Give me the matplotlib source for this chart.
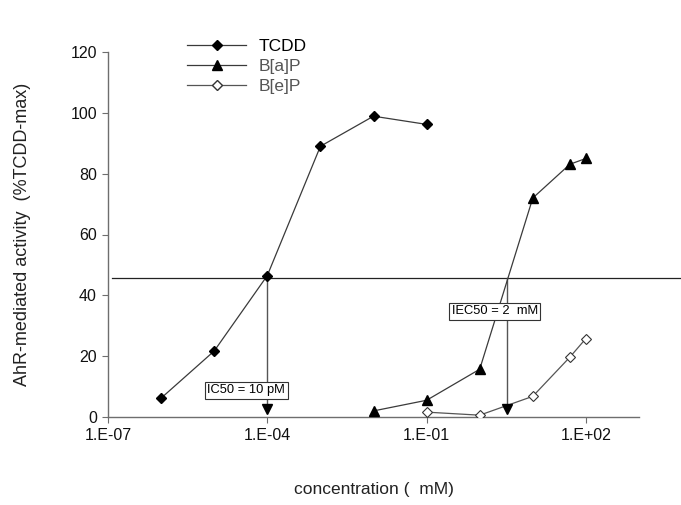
import matplotlib

matplotlib.use("Agg")
import matplotlib.pyplot as plt
from matplotlib.lines import Line2D

plt.rcParams["font.family"] = ["Liberation Sans", "DejaVu Sans"]

# values
tcdd_conc = [1e-6, 1e-5, 1e-4, 1e-3, 1e-2, 1e-1]
tcdd_act = [6.2, 21.7, 46.5, 89.0, 98.9, 96.2]

bap_conc = [1e-2, 1e-1, 1.0, 10.0, 50.0, 100.0]
bap_act = [2.0, 5.5, 15.7, 72.0, 83.1, 85.0]

bep_conc = [1e-1, 1.0, 10.0, 50.0, 100.0]
bep_act = [1.6, 0.6, 6.8, 19.7, 25.8]

half_level = 45.6
ic50_conc = 1e-4
iec50_conc = 3.3
arrow_level = 2.6

xticks = [1e-7, 1e-4, 1e-1, 1e2]
xtick_labels = ["1.E-07", "1.E-04", "1.E-01", "1.E+02"]
yticks = [0, 20, 40, 60, 80, 100, 120]

line_col = "#3a3a3a"
axis_col = "#6e6e6e"

fig = plt.figure(figsize=(6.81, 5.05), dpi=100)
ax = fig.add_axes([108 / 681, 88 / 505, 531 / 681, 365 / 505])

ax.plot(tcdd_conc, tcdd_act, color=line_col, lw=0.9, marker="D", ms=5.5,
        mfc="black", mec="black", zorder=3)
ax.plot(bap_conc, bap_act, color=line_col, lw=0.9, marker="^", ms=7.5,
        mfc="black", mec="black", zorder=3)
ax.plot(bep_conc, bep_act, color="#555555", lw=0.9, marker="D", ms=5.5,
        mfc="white", mec="#333333", mew=0.8, zorder=3)

# 50% line and the two read-offs
ax.plot([1.2e-7, 10 ** 3.8], [half_level, half_level], color="#222222", lw=0.9,
        clip_on=False, zorder=2)
ax.plot([ic50_conc, ic50_conc], [half_level, arrow_level], color="#555555", lw=1.0, zorder=2)
ax.plot([iec50_conc, iec50_conc], [half_level, arrow_level], color="#555555", lw=1.0, zorder=2)
ax.plot([ic50_conc, iec50_conc], [arrow_level, arrow_level], ls="none", marker="v", ms=7,
        mfc="black", mec="black", zorder=4)

box = dict(boxstyle="square,pad=0.2", fc="white", ec="#333333", lw=0.8)
ax.text(10 ** -4.4, 8.8, "IC50 = 10 pM", fontsize=9.3, ha="center", va="center",
        bbox=box, zorder=5)
ax.text(10 ** 0.28, 34.8, "IEC50 = 2  mM", fontsize=9.3, ha="center", va="center",
        bbox=box, zorder=5)

ax.set_xscale("log")
ax.set_xlim(1e-7, 1e3)
ax.set_ylim(0, 120)
ax.set_xticks(xticks)
ax.set_xticklabels(xtick_labels)
ax.xaxis.set_minor_locator(matplotlib.ticker.NullLocator())
ax.set_yticks(yticks)

for side in ["top", "right"]:
    ax.spines[side].set_visible(False)
for side in ["left", "bottom"]:
    ax.spines[side].set_color(axis_col)
    ax.spines[side].set_linewidth(1.0)
ax.tick_params(axis="both", direction="out", length=4, width=0.8, color=axis_col,
               labelsize=11.5, labelcolor="#111111", pad=4)

ax.set_ylabel("AhR-mediated activity  (%TCDD-max)", fontsize=13, color="#222222", labelpad=28)
ax.set_xlabel("concentration (  mM)", fontsize=12.5, color="#222222", labelpad=28)

handles = [
    Line2D([], [], color=line_col, lw=0.9, marker="D", ms=5.5, mfc="black", mec="black"),
    Line2D([], [], color=line_col, lw=0.9, marker="^", ms=7.5, mfc="black", mec="black"),
    Line2D([], [], color="#555555", lw=0.9, marker="D", ms=5.5, mfc="white", mec="#333333"),
]
leg = ax.legend(handles, ["TCDD", "B[a]P", "B[e]P"], loc="upper left",
                bbox_to_anchor=(0.12, 1.08), frameon=False, fontsize=12.5,
                handlelength=3.4, labelspacing=0.28, handletextpad=0.7)
for txt, col in zip(leg.get_texts(), ["black", "#555555", "#555555"]):
    txt.set_color(col)

fig.savefig("out.png", dpi=100)
